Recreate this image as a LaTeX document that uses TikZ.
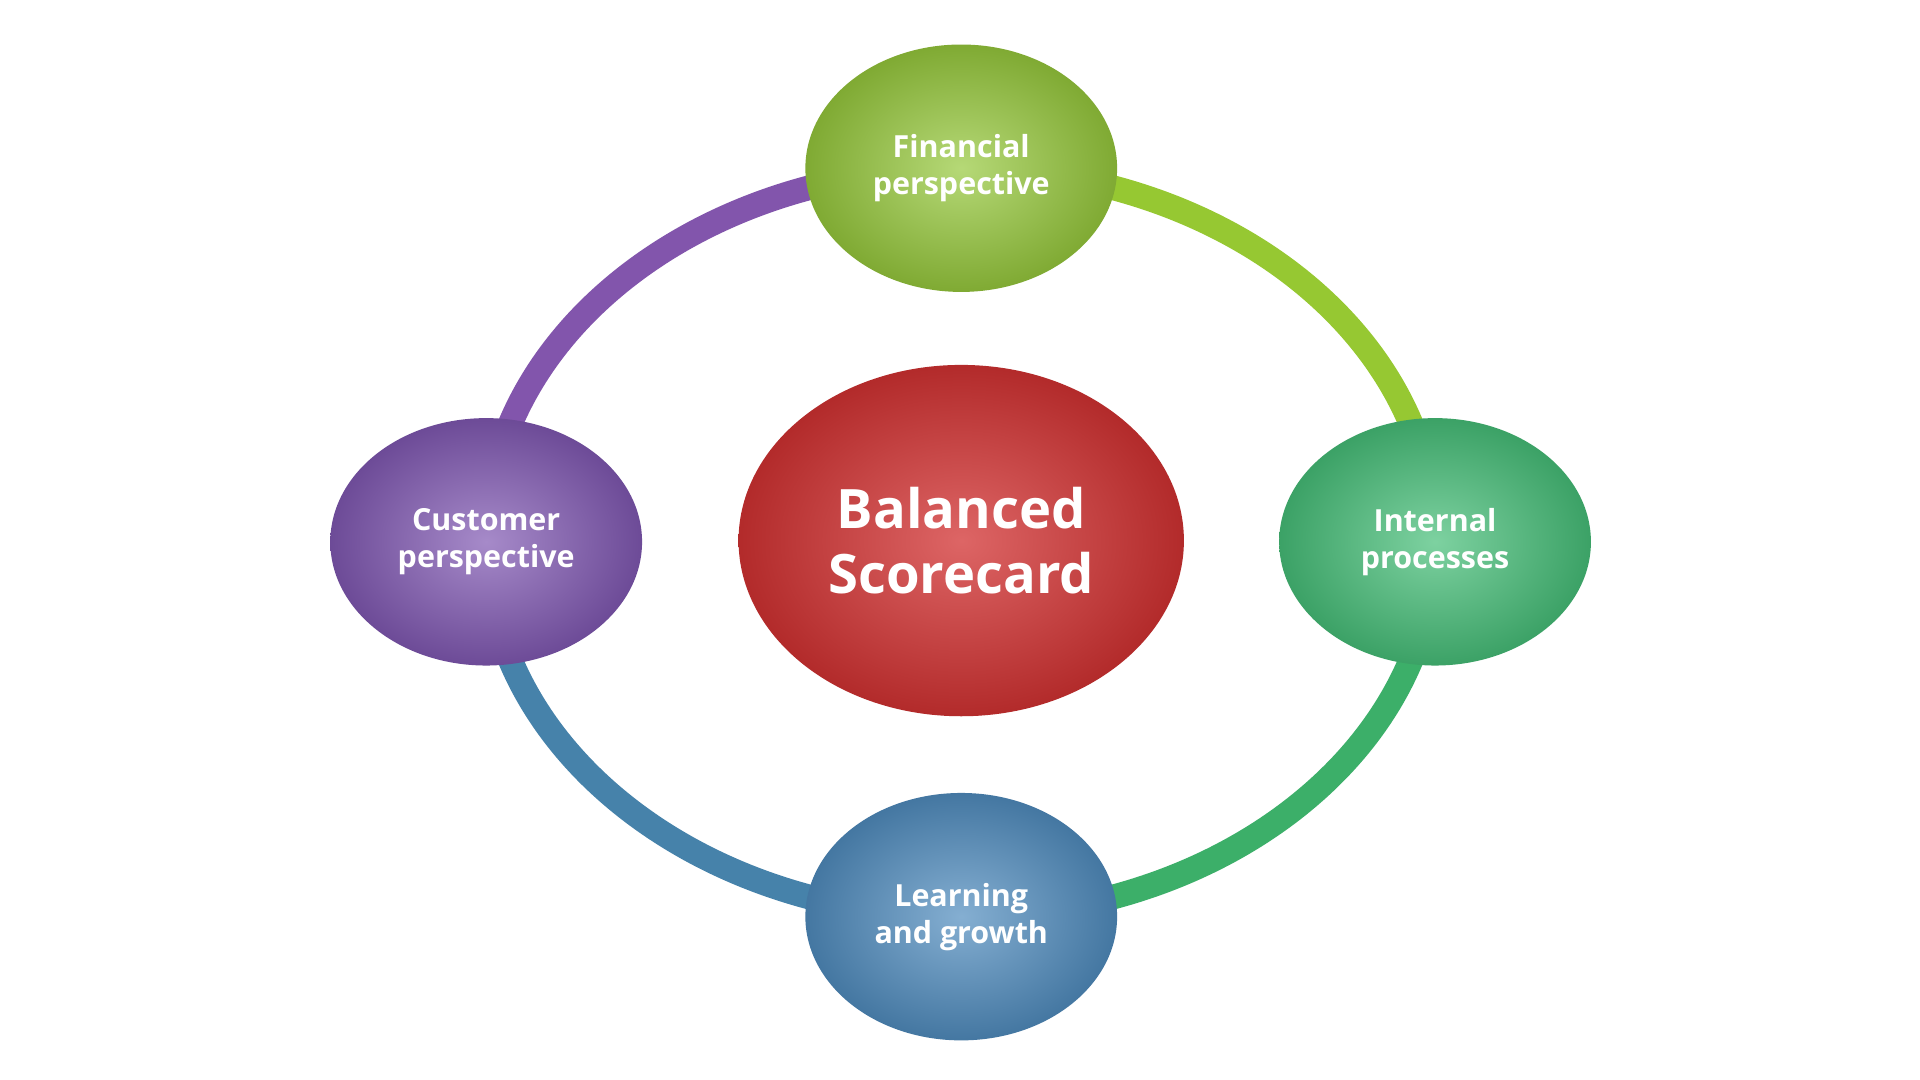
\documentclass[tikz,border=0pt]{standalone}
\usepackage{fontspec}
\setmainfont{Open Sans}
\usetikzlibrary{positioning,calc}

\definecolor{finColor}{RGB}{150,200,60}
\definecolor{custColor}{RGB}{128,88,178}
\definecolor{intColor}{RGB}{70,190,120}
\definecolor{learnColor}{RGB}{80,140,190}
\definecolor{bscColor}{RGB}{210,50,50}
\definecolor{ringTR}{RGB}{150,200,50}
\definecolor{ringTL}{RGB}{130,85,172}
\definecolor{ringBR}{RGB}{60,175,105}
\definecolor{ringBL}{RGB}{70,130,170}

\tikzset{
  persp/.style={circle, minimum size=0pt,
    inner sep=0pt, text=white, font=\fontsize{7}{8.5}\selectfont\bfseries,
    align=center},
  ring/.style={line width=0.2cm, line cap=round}
}

\begin{document}
\begin{tikzpicture}
            \fill[white] (0,0) rectangle (15.52,8.73);
            \useasboundingbox (0,0) rectangle (15.52,8.73);

            % Centre of the ring
            \coordinate (mid) at (7.77,4.36);

            % Perspective positions
            \coordinate (fin) at (7.77,7.37);
            \coordinate (cust) at (3.93,4.35);
            \coordinate (int) at (11.60,4.35);
            \coordinate (learn) at (7.77,1.32);

            % Ring arcs between perspectives
            \draw[ring,ringTL] (cust) .. controls ($(cust)+(0,1.67)$) and ($(fin)+(-2.12,0)$) .. (fin);
            \draw[ring,ringTR] (fin) .. controls ($(fin)+(2.12,0)$) and ($(int)+(0,1.67)$) .. (int);
            \draw[ring,ringBR] (int) .. controls ($(int)+(0,-1.67)$) and ($(learn)+(2.12,0)$) .. (learn);
            \draw[ring,ringBL] (learn) .. controls ($(learn)+(-2.12,0)$) and ($(cust)+(0,-1.67)$) .. (cust);

            % Perspective bubbles
            \shade[inner color=finColor!70!white, outer color=finColor!85!black] (fin) ellipse (1.26 and 1.0);
            \shade[inner color=custColor!70!white, outer color=custColor!85!black] (cust) ellipse (1.26 and 1.0);
            \shade[inner color=intColor!70!white, outer color=intColor!85!black] (int) ellipse (1.26 and 1.0);
            \shade[inner color=learnColor!70!white, outer color=learnColor!85!black] (learn) ellipse (1.26 and 1.0);
            \shade[inner color=bscColor!75!white, outer color=bscColor!85!black] (mid) ellipse (1.8 and 1.42);

            % Labels
            \node[persp] (finLbl) at (fin) {Financial\\perspective};
            \node[persp] (custLbl) at (cust) {Customer\\perspective};
            \node[persp] (intLbl) at (int) {Internal\\processes};
            \node[persp] (learnLbl) at (learn) {Learning\\and growth};
            \node[persp,font=\fontsize{12.5}{14.8}\selectfont\bfseries] (bsc) at (mid) {Balanced\\Scorecard};
\end{tikzpicture}
\end{document}
